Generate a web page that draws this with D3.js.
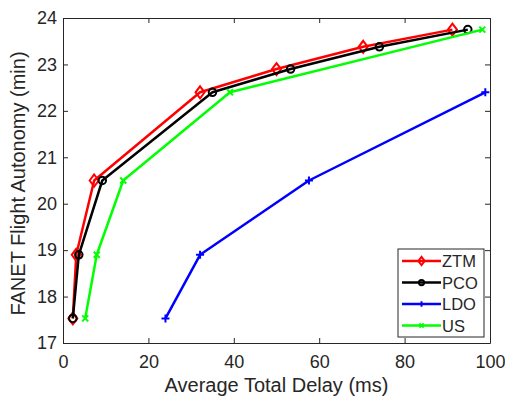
<!DOCTYPE html>
<html>
<head>
<meta charset="utf-8">
<script src="https://cdn.jsdelivr.net/npm/d3@7"></script>
<style>
  body { margin: 0; background: #fff; }
  svg { display: block; font-family: "Liberation Sans", Arial, sans-serif; }
</style>
</head>
<body>
<svg id="chart" width="505" height="397"></svg>
<script>
// Flight autonomy vs. average total delay for four schemes
const autonomy = [17.53, 18.9, 20.5, 22.4, 22.9, 23.38, 23.75];

const ztmDelay = [2.3, 3.1, 7.3, 32.1, 50.0, 70.3, 91.2];
const ztmAutonomy = autonomy;

const pcoDelay = [2.3, 3.7, 9.2, 35.0, 53.3, 74.1, 94.8];
const pcoAutonomy = autonomy;

const ldoDelay = [24.0, 32.1, 57.6, 98.9];
const ldoAutonomy = [17.53, 18.9, 20.5, 22.4];

const usDelay = [5.2, 7.9, 14.1, 39.1, 98.2];
const usAutonomy = [17.53, 18.9, 20.5, 22.4, 23.75];

const seriesNames = ["ZTM", "PCO", "LDO", "US"];
const seriesColors = ["#ff0000", "#000000", "#0000ff", "#00ff00"];
const seriesMarkers = ["diamond", "circle", "plus", "cross"];

const xTicks = [0, 20, 40, 60, 80, 100];
const yTicks = [17, 18, 19, 20, 21, 22, 23, 24];

const seriesData = [[ztmDelay, ztmAutonomy], [pcoDelay, pcoAutonomy], [ldoDelay, ldoAutonomy], [usDelay, usAutonomy]];
const series = seriesNames.map((name, i) => ({
  name,
  color: seriesColors[i],
  marker: seriesMarkers[i],
  pts: seriesData[i][0].map((d, j) => [d, seriesData[i][1][j]])
}));

const svg = d3.select("#chart");
const mLeft = 63, mRight = 490, mTop = 18, mBottom = 343;
const x = d3.scaleLinear().domain([0, 100]).range([mLeft, mRight]);
const y = d3.scaleLinear().domain([17, 24]).range([mBottom, mTop]);
const axisColor = "#262626";
const fmt = d3.format("d");

// box and inward ticks on all sides
const gx = svg.append("g").attr("transform", `translate(0,${mBottom})`)
  .call(d3.axisBottom(x).tickValues(xTicks).tickFormat(fmt).tickSizeInner(-5).tickSizeOuter(0).tickPadding(12));
const gy = svg.append("g").attr("transform", `translate(${mLeft},0)`)
  .call(d3.axisLeft(y).tickValues(yTicks).tickFormat(fmt).tickSizeInner(-5).tickSizeOuter(0).tickPadding(6));
const gxt = svg.append("g").attr("transform", `translate(0,${mTop})`)
  .call(d3.axisTop(x).tickValues(xTicks).tickSizeInner(-5).tickSizeOuter(0).tickFormat(""));
const gyr = svg.append("g").attr("transform", `translate(${mRight},0)`)
  .call(d3.axisRight(y).tickValues(yTicks).tickSizeInner(-5).tickSizeOuter(0).tickFormat(""));
[gx, gy, gxt, gyr].forEach(g => {
  g.select(".domain").attr("stroke", axisColor).attr("stroke-width", 1);
  g.selectAll(".tick line").attr("stroke", axisColor);
  g.selectAll(".tick text").attr("fill", axisColor).attr("font-size", 18)
    .attr("font-family", "'Liberation Sans', Arial, sans-serif");
});

svg.append("text")
  .attr("x", (mLeft + mRight) / 2).attr("y", 392)
  .attr("text-anchor", "middle").attr("fill", axisColor).attr("font-size", 20)
  .text("Average Total Delay (ms)");
svg.append("text")
  .attr("transform", `translate(25,${(mTop + mBottom) / 2 + 3}) rotate(-90)`)
  .attr("text-anchor", "middle").attr("fill", axisColor).attr("font-size", 20)
  .text("FANET Flight Autonomy (min)");

function drawMarker(g, type, color, cx, cy, s) {
  if (type === "diamond") {
    g.append("path").attr("d", `M${cx},${cy - s * 1.2}L${cx + s * 0.9},${cy}L${cx},${cy + s * 1.2}L${cx - s * 0.9},${cy}Z`)
      .attr("fill", "none").attr("stroke", color).attr("stroke-width", 2);
  } else if (type === "circle") {
    g.append("circle").attr("cx", cx).attr("cy", cy).attr("r", s * 0.75)
      .attr("fill", "none").attr("stroke", color).attr("stroke-width", 2);
  } else if (type === "plus") {
    g.append("path").attr("d", `M${cx - s * 0.8},${cy}H${cx + s * 0.8}M${cx},${cy - s * 0.8}V${cy + s * 0.8}`)
      .attr("stroke", color).attr("stroke-width", 2);
  } else {
    const d = s * 0.6;
    g.append("path").attr("d", `M${cx - d},${cy - d}L${cx + d},${cy + d}M${cx - d},${cy + d}L${cx + d},${cy - d}`)
      .attr("stroke", color).attr("stroke-width", 2);
  }
}

const line = d3.line().x(d => x(d[0])).y(d => y(d[1]));
const plot = svg.append("g");
series.forEach(s => {
  plot.append("path").datum(s.pts).attr("d", line)
    .attr("fill", "none").attr("stroke", s.color).attr("stroke-width", 2.5)
    .attr("stroke-linejoin", "round");
  const mg = plot.append("g");
  s.pts.forEach(p => drawMarker(mg, s.marker, s.color, x(p[0]), y(p[1]), 5));
});

// legend
const lg = svg.append("g");
lg.append("rect").attr("x", 398).attr("y", 249).attr("width", 86).attr("height", 88)
  .attr("fill", "#fff").attr("stroke", axisColor).attr("stroke-width", 1);
series.forEach((s, i) => {
  const ly = 261 + i * 21.5;
  lg.append("line").attr("x1", 402).attr("x2", 441).attr("y1", ly).attr("y2", ly)
    .attr("stroke", s.color).attr("stroke-width", 2.5);
  drawMarker(lg, s.marker, s.color, 421.5, ly, 3.5);
  lg.append("text").attr("x", 442).attr("y", ly + 6).attr("fill", axisColor)
    .attr("font-size", 16.5).text(s.name);
});
</script>
</body>
</html>
